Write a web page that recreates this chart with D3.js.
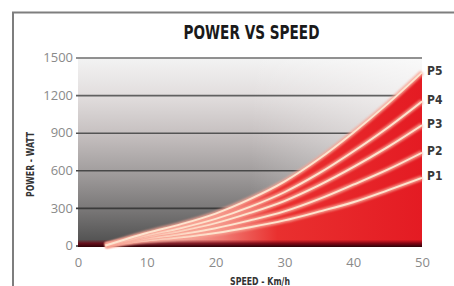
<!DOCTYPE html>
<html>
<head>
<meta charset="utf-8">
<script src="https://cdn.jsdelivr.net/npm/d3@7"></script>
<style>
  html, body { margin: 0; padding: 0; background: #fff; }
  svg { display: block; }
</style>
</head>
<body>
<svg id="chart"></svg>
<script>
// values
const speeds = [4, 10, 15, 20, 25, 30, 35, 40, 45, 50];
const p1 = [0, 40, 66, 100, 146, 200, 270, 345, 440, 540];
const p2 = [0, 55, 92, 138, 200, 272, 370, 485, 605, 740];
const p3 = [0, 70, 118, 178, 260, 355, 480, 625, 785, 960];
const p4 = [0, 82, 140, 212, 308, 425, 575, 750, 940, 1150];
const p5 = [0, 100, 170, 255, 370, 510, 690, 900, 1130, 1380];
const seriesNames = ["P1", "P2", "P3", "P4", "P5"];
const yTicks = [0, 300, 600, 900, 1200, 1500];
const xTicks = [0, 10, 20, 30, 40, 50];

const width = 454;
const height = 286;
const condensed = "'Liberation Sans Narrow', 'DejaVu Sans Condensed', 'Arial Narrow', sans-serif";

const svg = d3.select("#chart")
    .attr("width", width)
    .attr("height", height);

const x = d3.scaleLinear().domain([0, 50]).range([78, 422]);
const y = d3.scaleLinear().domain([0, 1500]).range([245.5, 57.5]);

const series = [p1, p2, p3, p4, p5].map((vals, i) => ({
    name: seriesNames[i],
    points: speeds.map((s, j) => ({ s: s, v: vals[j] }))
}));

const defs = svg.append("defs");

// plot background, light at the top, dark at the bottom
const bg = defs.append("linearGradient")
    .attr("id", "bg").attr("x1", 0).attr("y1", 0).attr("x2", 0).attr("y2", 1);
[[0, "#f3f3f3"], [0.2, "#e2dede"], [0.4, "#c7c1c1"], [0.6, "#a39f9f"], [0.8, "#7b7979"], [1, "#4e4e4e"]]
    .forEach(d => bg.append("stop").attr("offset", d[0]).attr("stop-color", d[1]));

const shine = defs.append("linearGradient")
    .attr("id", "shine").attr("x1", 0).attr("y1", 0).attr("x2", 1).attr("y2", 0);
shine.append("stop").attr("offset", 0.5).attr("stop-color", "#fff").attr("stop-opacity", 0);
shine.append("stop").attr("offset", 1).attr("stop-color", "#fff").attr("stop-opacity", 0.55);

// red fill, pale at low speed
const areaGrad = defs.append("linearGradient")
    .attr("id", "areaGrad").attr("gradientUnits", "userSpaceOnUse")
    .attr("x1", x(0)).attr("y1", 0).attr("x2", x(50)).attr("y2", 0);
[[0, "#f7dccf"], [0.22, "#f5c6b6"], [0.42, "#f07a72"], [0.58, "#e9302f"], [1, "#e41b23"]]
    .forEach(d => areaGrad.append("stop").attr("offset", d[0]).attr("stop-color", d[1]));

const baseGrad = defs.append("linearGradient")
    .attr("id", "baseGrad").attr("x1", 0).attr("y1", 0).attr("x2", 0).attr("y2", 1);
baseGrad.append("stop").attr("offset", 0).attr("stop-color", "#7a0010").attr("stop-opacity", 0);
baseGrad.append("stop").attr("offset", 0.5).attr("stop-color", "#6a0010").attr("stop-opacity", 0.8);
baseGrad.append("stop").attr("offset", 1).attr("stop-color", "#2e0006").attr("stop-opacity", 1);

defs.append("filter").attr("id", "soft")
    .attr("x", "-10%").attr("y", "-10%").attr("width", "120%").attr("height", "120%")
    .append("feGaussianBlur").attr("stdDeviation", 1.1);

// frame
svg.append("path")
    .attr("d", "M13,286 L13,12.5 L454,12.5")
    .attr("fill", "none")
    .attr("stroke", "#7e7e7e")
    .attr("stroke-width", 2);

// background
svg.append("rect")
    .attr("x", x(0)).attr("y", y(1500))
    .attr("width", x(50) - x(0)).attr("height", y(0) - y(1500))
    .attr("fill", "url(#bg)");
svg.append("rect")
    .attr("x", x(0)).attr("y", y(1500))
    .attr("width", x(50) - x(0)).attr("height", y(0) - y(1500))
    .attr("fill", "url(#shine)");

// grid + y labels
const gridColor = d3.scaleLinear().domain([0, 1500]).range(["#2e2e2e", "#6e6e6e"]);
const yAxis = svg.append("g")
    .attr("transform", `translate(${x(0)},0)`)
    .call(d3.axisLeft(y).tickValues(yTicks).tickFormat(d3.format("d"))
        .tickSize(-(x(50) - x(0))).tickPadding(5));
yAxis.select(".domain").remove();
yAxis.selectAll(".tick line")
    .attr("x1", -2)
    .attr("stroke", d => gridColor(d))
    .attr("stroke-width", 1.6);
yAxis.selectAll(".tick text")
    .attr("fill", "#8a8a8a")
    .attr("font-family", "'Open Sans', sans-serif")
    .attr("font-size", 13);

// area under the top curve
const area = d3.area()
    .x(d => x(d.s))
    .y0(y(0))
    .y1(d => y(d.v))
    .curve(d3.curveMonotoneX);

const topSeries = series[series.length - 1];
svg.append("path")
    .datum(topSeries.points)
    .attr("d", area)
    .attr("fill", "url(#areaGrad)");

// dark strip at the base
svg.append("rect")
    .attr("x", x(0)).attr("y", y(0) - 6)
    .attr("width", x(50) - x(0)).attr("height", 7.5)
    .attr("fill", "url(#baseGrad)");

// curves as light stripes
const line = d3.line()
    .x(d => x(d.s))
    .y(d => y(d.v))
    .curve(d3.curveMonotoneX);

const curves = svg.append("g");
series.forEach(sr => {
    curves.append("path")
        .datum(sr.points)
        .attr("d", line)
        .attr("fill", "none")
        .attr("stroke", "#f8a494")
        .attr("stroke-width", 5)
        .attr("opacity", 0.85)
        .attr("filter", "url(#soft)");
    curves.append("path")
        .datum(sr.points)
        .attr("d", line)
        .attr("fill", "none")
        .attr("stroke", "#fde4cf")
        .attr("stroke-width", 1.9);
});

// x labels
const xAxis = svg.append("g")
    .attr("transform", `translate(0,${y(0)})`)
    .call(d3.axisBottom(x).tickValues(xTicks).tickSize(0).tickPadding(12));
xAxis.select(".domain").remove();
xAxis.selectAll(".tick text")
    .attr("fill", "#8a8a8a")
    .attr("font-family", "'Open Sans', sans-serif")
    .attr("font-size", 13);

// series labels at the right
svg.selectAll(".plabel")
    .data(series)
    .enter()
    .append("text")
    .attr("class", "plabel")
    .attr("x", 427)
    .attr("y", d => y(d.points[d.points.length - 1].v) - 2)
    .attr("dy", "0.36em")
    .attr("fill", "#383838")
    .attr("font-family", condensed)
    .attr("font-weight", "bold")
    .attr("font-size", 12)
    .text(d => d.name);

// titles
svg.append("text")
    .attr("x", 251.5)
    .attr("y", 39)
    .attr("text-anchor", "middle")
    .attr("font-family", condensed)
    .attr("font-weight", "bold")
    .attr("font-size", 19)
    .attr("textLength", 136)
    .attr("lengthAdjust", "spacingAndGlyphs")
    .attr("fill", "#1a1a1a")
    .text("POWER VS SPEED");

svg.append("text")
    .attr("transform", "translate(33.5,164.5) rotate(-90)")
    .attr("text-anchor", "middle")
    .attr("font-family", condensed)
    .attr("font-weight", "bold")
    .attr("font-size", 10)
    .attr("textLength", 65)
    .attr("lengthAdjust", "spacingAndGlyphs")
    .attr("fill", "#333")
    .text("POWER - WATT");

svg.append("text")
    .attr("x", 260)
    .attr("y", 284.5)
    .attr("text-anchor", "middle")
    .attr("font-family", condensed)
    .attr("font-weight", "bold")
    .attr("font-size", 10.5)
    .attr("textLength", 60)
    .attr("lengthAdjust", "spacingAndGlyphs")
    .attr("fill", "#333")
    .text("SPEED - Km/h");
</script>
</body>
</html>
